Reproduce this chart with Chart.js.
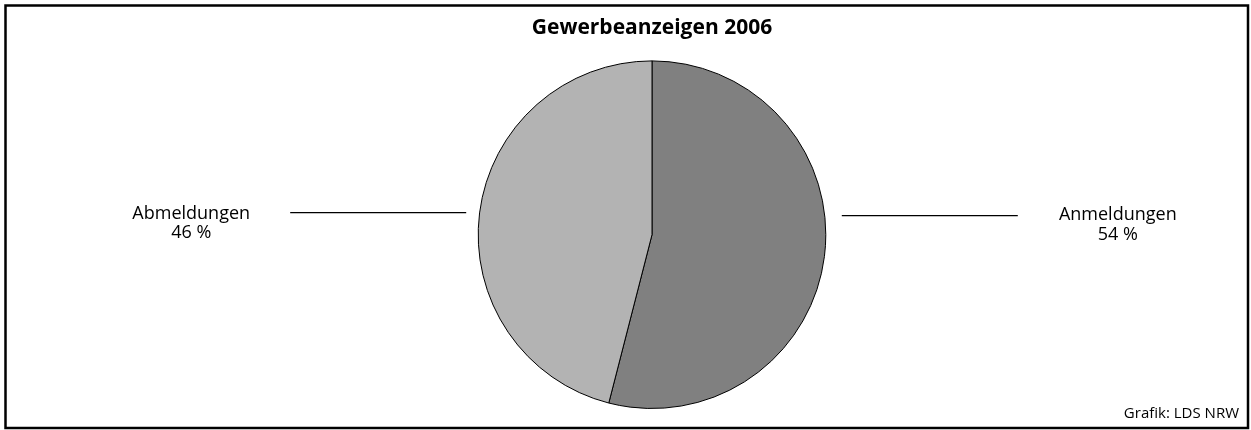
<!DOCTYPE html>
<html>
<head>
<meta charset="utf-8">
<script src="https://cdn.jsdelivr.net/npm/chart.js@4/dist/chart.umd.min.js"></script>
<style>
  html, body { margin: 0; padding: 0; background: #fff; }
  #wrap { width: 1251px; height: 430px; }
</style>
</head>
<body>
<div id="wrap"><canvas id="pieChart" width="1251" height="430"></canvas></div>
<script>
// Gewerbeanzeigen 2006 (Anteile in %)
const categories = ["Anmeldungen", "Abmeldungen"];
const shares = [54, 46];
const sliceColors = ["#808080", "#b3b3b3"];

const fontFamily = "'Open Sans', 'DejaVu Sans', sans-serif";

// Rahmen, Hinweislinien und Beschriftungen
const decorations = {
    id: "decorations",
    afterDraw(chart) {
        const ctx = chart.ctx;
        const arc = chart.getDatasetMeta(0).data[0];
        const cx = arc.x, cy = arc.y, r = arc.outerRadius;

        ctx.save();
        // Rahmen
        ctx.strokeStyle = "#000";
        ctx.lineWidth = 2.5;
        ctx.strokeRect(5.5, 5.5, 1242.5, 422.5);

        // Hinweislinien
        ctx.lineWidth = 1.2;
        ctx.beginPath();
        ctx.moveTo(cx + r + 16, cy - 19);
        ctx.lineTo(cx + r + 192, cy - 19);
        ctx.moveTo(cx - r - 12, cy - 22);
        ctx.lineTo(cx - r - 188, cy - 22);
        ctx.stroke();

        // Beschriftungen
        ctx.fillStyle = "#000";
        ctx.font = "18px " + fontFamily;
        ctx.textAlign = "center";
        ctx.textBaseline = "alphabetic";
        ctx.fillText(categories[0], cx + r + 292, cy - 15);
        ctx.fillText(shares[0] + " %", cx + r + 292, cy + 5);
        ctx.fillText(categories[1], cx - r - 287, cy - 16);
        ctx.fillText(shares[1] + " %", cx - r - 287, cy + 3);

        // Quelle
        ctx.font = "15px " + fontFamily;
        ctx.textAlign = "right";
        ctx.fillText("Grafik: LDS NRW", 1239, 418);
        ctx.restore();
    },
};

new Chart(document.getElementById("pieChart").getContext("2d"), {
    type: "pie",
    data: {
        labels: categories,
        datasets: [
            {
                data: shares,
                backgroundColor: sliceColors,
                borderColor: "#000",
                borderWidth: 1,
            },
        ],
    },
    options: {
        responsive: false,
        animation: false,
        layout: {
            padding: { top: 8, bottom: 21, left: 60, right: 7 },
        },
        plugins: {
            legend: { display: false },
            tooltip: { enabled: false },
            title: {
                display: true,
                text: "Gewerbeanzeigen 2006",
                color: "#000",
                font: { family: fontFamily, size: 21, weight: "bold" },
                padding: { top: 7.4, bottom: 19.8 },
            },
        },
    },
    plugins: [decorations],
});
</script>
</body>
</html>
